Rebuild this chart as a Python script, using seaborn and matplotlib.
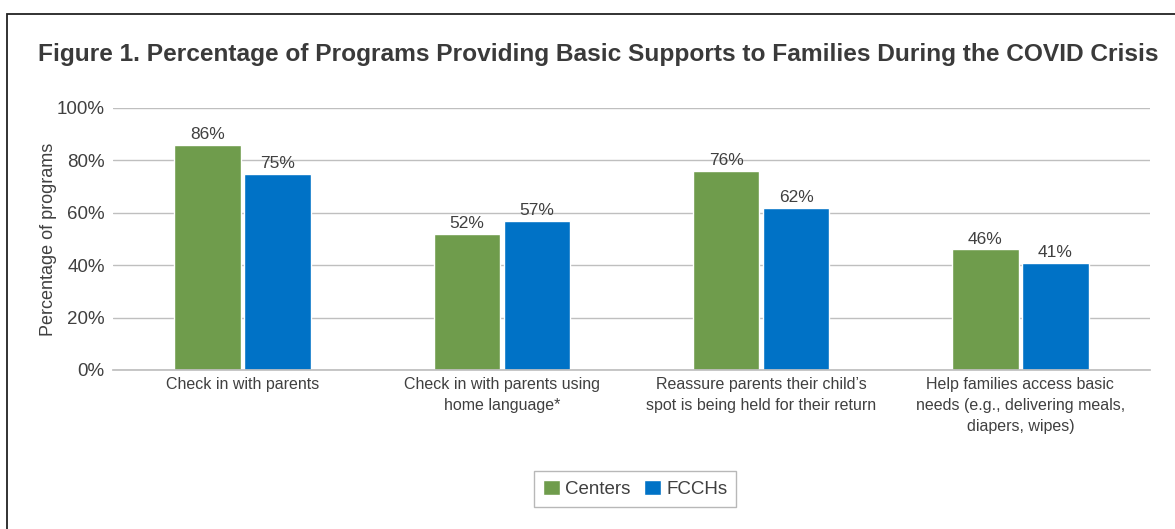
"""Figure 1: programs providing basic supports to families during COVID."""
import numpy as np
import pandas as pd
import matplotlib
matplotlib.use("Agg")
import matplotlib.pyplot as plt
from matplotlib.patches import Rectangle
import seaborn as sns

categories = [
    "Check in with parents",
    "Check in with parents using\nhome language*",
    "Reassure parents their child\u2019s\nspot is being held for their return",
    "Help families access basic\nneeds (e.g., delivering meals,\ndiapers, wipes)",
]
groups = ["Centers", "FCCHs"]
centers_pct = [86, 52, 76, 46]
fcchs_pct = [75, 57, 62, 41]
y_ticks = [0, 20, 40, 60, 80, 100]
y_tick_labels = ["0%", "20%", "40%", "60%", "80%", "100%"]
title = ("Figure 1. Percentage of Programs Providing Basic Supports "
         "to Families During the COVID Crisis")

GREEN = "#6F9C4C"
BLUE = "#0072C6"
TEXT = "#404040"
GRID = "#BFBFBF"

sns.set_theme(style="white")
plt.rcParams["font.family"] = ["Liberation Sans", "DejaVu Sans"]

df = pd.DataFrame({
    "category": categories * 2,
    "group": [groups[0]] * len(categories) + [groups[1]] * len(categories),
    "pct": centers_pct + fcchs_pct,
})

W, H = 1175, 529
fig = plt.figure(figsize=(W / 100, H / 100), dpi=100)
ax = fig.add_axes([113 / W, 1 - 370 / H, (1150 - 113) / W, (370 - 108) / H])

sns.barplot(data=df, x="category", y="pct", hue="group", order=categories,
            hue_order=groups, palette=[GREEN, BLUE], width=0.54, gap=0.05,
            saturation=1, ax=ax, legend=True)

for cont in ax.containers:
    ax.bar_label(cont, labels=[f"{v:.0f}%" for v in cont.datavalues],
                 padding=2, fontsize=12.5, color=TEXT)

ax.set_ylim(0, 100)
ax.set_xlim(-0.5, len(categories) - 0.5)
ax.set_yticks(y_ticks)
ax.set_yticklabels(y_tick_labels, fontsize=13.5, color=TEXT)
ax.tick_params(axis="y", length=0, pad=6)
ax.tick_params(axis="x", length=0, pad=5, labelsize=11.5, labelcolor=TEXT)
for lbl in ax.get_xticklabels():
    lbl.set_linespacing(1.5)
ax.set_xlabel("")
ax.set_ylabel("Percentage of programs", fontsize=13, color=TEXT, labelpad=0)
ax.yaxis.grid(True, color=GRID, linewidth=1)
ax.set_axisbelow(True)
for side in ["top", "right", "left"]:
    ax.spines[side].set_visible(False)
ax.spines["bottom"].set_color(GRID)

leg = ax.legend(loc="center", bbox_to_anchor=(635 / W, 1 - 489 / H),
                bbox_transform=fig.transFigure, ncol=2, frameon=True,
                fontsize=13.5, handlelength=0.9, handleheight=0.9,
                handletextpad=0.3, columnspacing=0.7, borderpad=0.45,
                fancybox=False)
leg.get_frame().set_edgecolor("#A6A6A6")
leg.get_frame().set_linewidth(1)
for t in leg.get_texts():
    t.set_color(TEXT)

ttl = fig.text(38 / W, 1 - 55 / H, title, fontsize=20, fontweight="bold",
               fontstretch="condensed", color="#3A3A3A", va="center", ha="left")
# shrink title so it spans the same width as the reference (38..1157 px)
renderer = fig.canvas.get_renderer()
w_px = ttl.get_window_extent(renderer).width
ttl.set_fontsize(min(24, 20 * (1157 - 38) / w_px))

# outer frame of the figure box (right and bottom run off the picture)
fig.patches.append(Rectangle((7 / W, -0.1), 1.0, 1.1 - 14 / H,
                             transform=fig.transFigure, fill=False,
                             edgecolor="#222222", linewidth=1.3))

fig.savefig("out.png", dpi=100)
